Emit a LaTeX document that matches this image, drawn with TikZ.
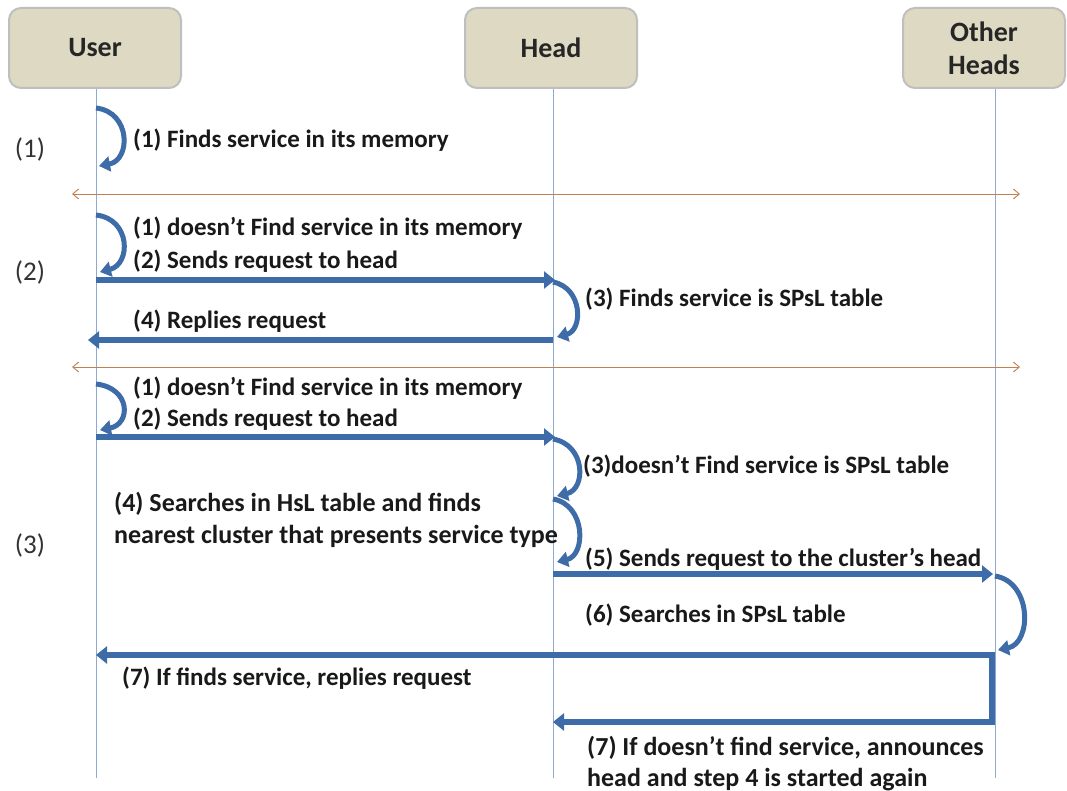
\documentclass[tikz,border=0pt]{standalone}
\usepackage{fontspec}
\setmainfont{Carlito}
\usetikzlibrary{arrows.meta}
\definecolor{boxfill}{HTML}{DDD9C3}
\definecolor{boxdraw}{HTML}{BFBFBF}
\definecolor{life}{HTML}{8FAAD0}
\definecolor{sep}{HTML}{C08050}
\definecolor{arr}{HTML}{3D6CA8}
\begin{document}
\begin{tikzpicture}[x=1pt,y=-1pt,
  actor/.style={draw=boxdraw, line width=2pt, fill=boxfill, rounded corners=12pt,
    minimum height=80pt, font=\fontsize{28}{33}\selectfont\bfseries, align=center, text=black!85},
  lbl/.style={anchor=base west, font=\fontsize{25}{28}\selectfont\bfseries, inner sep=0pt, text=black!90},
  lblwide/.style={anchor=base west, font=\fontsize{26}{28}\selectfont\bfseries, inner sep=0pt, text=black!90},
  sec/.style={anchor=center, font=\fontsize{27}{30}\selectfont, inner sep=0pt, text=black!80},
  lifeline/.style={draw=life, line width=0.8pt},
  seppline/.style={draw=sep, line width=0.9pt, {Straight Barb[length=6pt,width=10pt]}-{Straight Barb[length=6pt,width=10pt]}},
  loop/.style={draw=arr, line width=5pt, -{Triangle[length=11pt,width=15pt]}},
  msg/.style={draw=arr, line width=6.5pt, -{Triangle[length=11pt,width=17pt]}}
]
\useasboundingbox (0,0) rectangle (1067,791);

% actors
\node[actor, minimum width=172pt] (user) at (95,48) {User};
\node[actor, minimum width=172pt] (head) at (551,48) {Head};
\node[actor, minimum width=162pt] (other) at (984,48) {Other\\Heads};

% lifelines
\coordinate (uend) at (96,778);
\coordinate (hend) at (553,778);
\coordinate (oend) at (995,778);
\draw[lifeline] (user.south -| uend) -- (uend);
\draw[lifeline] (head.south -| hend) -- (hend);
\draw[lifeline] (other.south -| oend) -- (oend);

% section labels
\node[sec] (s1) at (30,150) {(1)};
\node[sec] (s2) at (30,272) {(2)};
\node[sec] (s3) at (30,545) {(3)};

% separators
\coordinate (sepL1) at (72,194);
\coordinate (sepR1) at (1020,194);
\coordinate (sepL2) at (72,367);
\coordinate (sepR2) at (1020,367);
\draw[seppline] (sepL1) -- (sepR1);
\draw[seppline] (sepL2) -- (sepR2);

% ---- section 1
\coordinate (u1a) at (96,108);
\coordinate (u1b) at (99,166);
\draw[loop] (u1a) .. controls (131,112) and (131,160) .. (u1b);
\node[lbl] (t11) at (133,148) {(1) Finds service in its memory};

% ---- section 2
\coordinate (u2a) at (96,215);
\coordinate (u2b) at (100,272);
\draw[loop] (u2a) .. controls (131,219) and (131,264) .. (u2b);
\node[lbl] (t21) at (133,236) {(1) doesn’t Find service in its memory};
\node[lbl] (t22) at (133,269) {(2) Sends request to head};
\coordinate (u2c) at (96,280);
\coordinate (h2c) at (555,280);
\draw[msg] (u2c) -- (h2c);
\coordinate (h2a) at (553,282);
\coordinate (h2b) at (557,337);
\draw[loop] (h2a) .. controls (583,288) and (583,330) .. (h2b);
\node[lbl] (t23) at (585,306) {(3) Finds service is SPsL table};
\coordinate (h2d) at (553,340);
\coordinate (u2d) at (88,340);
\draw[msg] (h2d) -- (u2d);
\node[lbl] (t24) at (133,328) {(4) Replies request};

% ---- section 3
\coordinate (u3a) at (96,384);
\coordinate (u3b) at (100,430);
\draw[loop] (u3a) .. controls (131,388) and (131,424) .. (u3b);
\node[lbl] (t31) at (133,395) {(1) doesn’t Find service in its memory};
\node[lbl] (t32) at (133,426) {(2) Sends request to head};
\coordinate (u3c) at (96,437);
\coordinate (h3c) at (555,437);
\draw[msg] (u3c) -- (h3c);
\coordinate (h3a) at (553,439);
\coordinate (h3b) at (557,496);
\draw[loop] (h3a) .. controls (586,445) and (586,489) .. (h3b);
\node[lbl] (t33) at (583,473) {(3)doesn’t Find service is SPsL table};
\coordinate (h3d) at (553,499);
\coordinate (h3e) at (557,562);
\draw[loop] (h3d) .. controls (586,505) and (586,555) .. (h3e);
\node[lblwide] (t34) at (114,511) {(4) Searches in HsL table and finds};
\node[lblwide] (t35) at (114,543) {nearest cluster that presents service type};
\coordinate (h3f) at (553,574);
\coordinate (o3f) at (993,574);
\draw[msg] (h3f) -- (o3f);
\node[lbl] (t36) at (585,566) {(5) Sends request to the cluster’s head};
\coordinate (o3a) at (995,576);
\coordinate (o3b) at (998,650);
\draw[loop] (o3a) .. controls (1032,582) and (1032,643) .. (o3b);
\node[lbl] (t37) at (585,622) {(6) Searches in SPsL table};
\coordinate (o3g) at (995,655);
\coordinate (u3g) at (96,655);
\draw[msg] (o3g) -- (u3g);
\node[lbl] (t38) at (122,685) {(7) If finds service, replies request};
\coordinate (o3h) at (992,652);
\coordinate (o3k) at (992,722);
\coordinate (h3k) at (553,722);
\draw[msg] (o3h) -- (o3k) -- (h3k);
\node[lblwide] (t39) at (587,755) {(7) If doesn’t find service, announces};
\node[lblwide] (t40) at (587,786) {head and step 4 is started again};
\end{tikzpicture}
\end{document}
